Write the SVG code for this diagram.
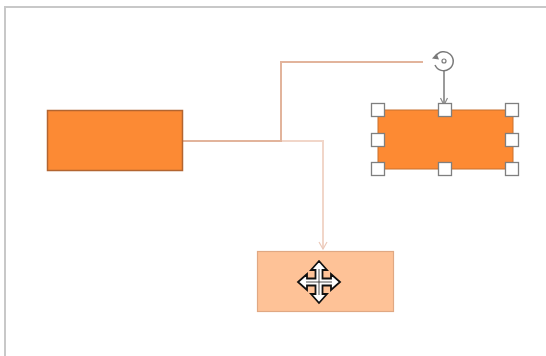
<svg xmlns="http://www.w3.org/2000/svg" width="546" height="356" viewBox="0 0 546 356">
  <defs>
    <marker id="arrLight" markerWidth="10" markerHeight="10" refX="8" refY="5" orient="auto" markerUnits="userSpaceOnUse">
      <path d="M1,1 L8,5 L1,9" fill="none" stroke="#EBC9BA" stroke-width="1.2"/>
    </marker>
    <marker id="arrGray" markerWidth="10" markerHeight="10" refX="8" refY="5" orient="auto" markerUnits="userSpaceOnUse">
      <path d="M1,1.5 L8,5 L1,8.5" fill="none" stroke="#8A8A8A" stroke-width="1.2"/>
    </marker>
  </defs>
  <style>
    .frame { stroke: #C8C8C8; stroke-width: 2; fill: none; }
    .conn { fill: none; stroke-width: 2; }
    .handle { fill: #FFFFFF; stroke: #7F7F7F; stroke-width: 1.3; }
    .gray { fill: none; stroke: #7A7A7A; stroke-width: 1.5; }
  </style>
  <rect width="546" height="356" fill="#FFFFFF"/>
  <path class="frame" d="M5,356 L5,7 L546,7"/>

  <g id="connectors">
    <path class="conn" stroke="#F1D6C9" d="M281,141 L323,141 L323,249" marker-end="url(#arrLight)"/>
    <path class="conn" stroke="#E2B49C" d="M183,141 L281,141 L281,62 L423,62"/>
  </g>

  <g id="node-left">
    <rect x="47.5" y="110.5" width="135" height="60" fill="#FC8A34" stroke="#B36530" stroke-width="1.5"/>
  </g>

  <g id="node-bottom">
    <rect x="257.5" y="251.5" width="136" height="60" fill="#FEC297" stroke="#E0A883" stroke-width="1.2"/>
    <g transform="translate(319,282)">
      <path d="M0,-21 L8,-12 L3.5,-12 L3.5,-3.5 L12,-3.5 L12,-8 L21,0 L12,8 L12,3.5 L3.5,3.5 L3.5,12 L8,12 L0,21 L-8,12 L-3.5,12 L-3.5,3.5 L-12,3.5 L-12,8 L-21,0 L-12,-8 L-12,-3.5 L-3.5,-3.5 L-3.5,-12 L-8,-12 Z" fill="#FFFFFF" stroke="#111111" stroke-width="1.8" stroke-linejoin="miter"/>
      <path d="M0,-13 L0,13 M-13,0 L13,0" stroke="#222222" stroke-width="0.8"/>
    </g>
  </g>

  <g id="node-selected">
    <rect x="378" y="110" width="135" height="59" fill="#FD8A33" stroke="#C8712F" stroke-width="1"/>
    <path class="gray" d="M444,70.5 L444,105" marker-end="url(#arrGray)"/>
    <path class="gray" d="M435.5,56.5 A9.5,9.5 0 1 1 435,65"/>
    <path d="M432,58.5 L436.5,53.5 L439,59.5 Z" fill="#7A7A7A"/>
    <circle cx="444" cy="61" r="2" fill="none" stroke="#7A7A7A" stroke-width="1.2"/>
    <rect class="handle" x="371.5" y="103.5" width="13" height="13"/>
    <rect class="handle" x="438.5" y="103.5" width="13" height="13"/>
    <rect class="handle" x="505.5" y="103.5" width="13" height="13"/>
    <rect class="handle" x="371.5" y="133.5" width="13" height="13"/>
    <rect class="handle" x="505.5" y="133.5" width="13" height="13"/>
    <rect class="handle" x="371.5" y="162.5" width="13" height="13"/>
    <rect class="handle" x="438.5" y="162.5" width="13" height="13"/>
    <rect class="handle" x="505.5" y="162.5" width="13" height="13"/>
  </g>
</svg>
